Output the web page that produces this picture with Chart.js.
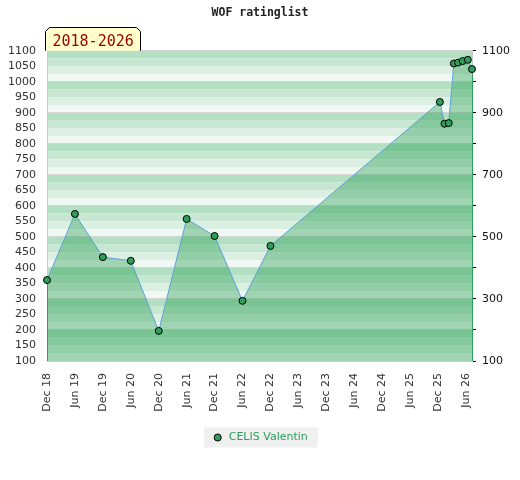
<!DOCTYPE html>
<html>
<head>
<meta charset="utf-8">
<script src="https://cdn.jsdelivr.net/npm/chart.js@4.4.1/dist/chart.umd.min.js"></script>
<style>
  html, body { margin: 0; padding: 0; background: #fff; }
  #wrap { width: 520px; height: 480px; }
</style>
</head>
<body>
<div id="wrap"><canvas id="ratingChart" width="520" height="480"></canvas></div>
<script>
// months counted from Dec 2018
const months = [0, 6, 12, 18, 24, 30, 36, 42, 48, 84.4, 85.4, 86.3, 87.4, 88.3, 89.3, 90.4, 91.3];
const ratings = [361, 574, 435, 423, 197, 558, 503, 294, 471, 935, 865, 867, 1059, 1062, 1067, 1071, 1041];
const tickMonths = [0, 6, 12, 18, 24, 30, 36, 42, 48, 54, 60, 66, 72, 78, 84, 90];
const tickLabels = ['Dec 18', 'Jun 19', 'Dec 19', 'Jun 20', 'Dec 20', 'Jun 21', 'Dec 21', 'Jun 22',
                    'Dec 22', 'Jun 23', 'Dec 23', 'Jun 24', 'Dec 24', 'Jun 25', 'Dec 25', 'Jun 26'];
const playerName = 'CELIS Valentin';
const periodText = '2018-2026';

const bandColors = ['#b3dfc3', '#c8e7d3', '#dcefe3', '#eff8f2'];

// striped background of the plot area
const bandsPlugin = {
  id: 'bands',
  beforeDraw(chart) {
    const { ctx, chartArea, scales } = chart;
    const y = scales.y;
    ctx.save();
    for (let v = 1100, i = 0; v > 100; v -= 25, i++) {
      const top = y.getPixelForValue(v);
      const bot = y.getPixelForValue(v - 25);
      ctx.fillStyle = bandColors[i % 4];
      ctx.fillRect(chartArea.left, top, chartArea.right - chartArea.left, bot - top);
    }
    // legend background
    const hb = chart.legend && chart.legend.legendHitBoxes[0];
    if (hb) {
      ctx.fillStyle = '#f0f0f0';
      ctx.fillRect(hb.left - 8, hb.top + hb.height / 2 - 10, hb.width + 18, 20);
    }
    ctx.restore();
  }
};

// green edges of the filled area + period label
const extrasPlugin = {
  id: 'extras',
  afterDatasetsDraw(chart) {
    const { ctx, chartArea, scales } = chart;
    const x = scales.x, y = scales.y;
    ctx.save();
    ctx.strokeStyle = '#2ca05a';
    ctx.lineWidth = 1;
    [0, months.length - 1].forEach(i => {
      const px = Math.round(x.getPixelForValue(months[i])) + 0.5;
      ctx.beginPath();
      ctx.moveTo(px, y.getPixelForValue(ratings[i]) + 4);
      ctx.lineTo(px, chartArea.bottom);
      ctx.stroke();
    });
    ctx.restore();
  },
  afterDraw(chart) {
    const { ctx, chartArea } = chart;
    const l = chartArea.left - 1.5, r = chartArea.left + 93.5;
    const t = 27.5, b = chartArea.top, c = 4;
    ctx.save();
    ctx.beginPath();
    ctx.moveTo(l, b);
    ctx.lineTo(l, t + c);
    ctx.lineTo(l + c, t);
    ctx.lineTo(r - c, t);
    ctx.lineTo(r, t + c);
    ctx.lineTo(r, b);
    ctx.fillStyle = '#ffffcc';
    ctx.fill();
    ctx.strokeStyle = '#000';
    ctx.lineWidth = 1;
    ctx.stroke();
    ctx.fillStyle = '#990000';
    ctx.font = '15px "DejaVu Sans Mono"';
    ctx.textBaseline = 'alphabetic';
    ctx.fillText(periodText, l + 7, 46);
    ctx.restore();
  }
};

const ctx = document.getElementById('ratingChart').getContext('2d');

new Chart(ctx, {
  type: 'line',
  data: {
    datasets: [{
      label: playerName,
      data: months.map((m, i) => ({ x: m, y: ratings[i] })),
      borderColor: '#5ba3d9',
      borderWidth: 1,
      backgroundColor: 'rgba(10,145,55,0.34)',
      fill: 'start',
      tension: 0,
      pointRadius: 3.5,
      pointBackgroundColor: '#2e9e58',
      pointBorderColor: '#000',
      pointBorderWidth: 1,
      clip: false
    }]
  },
  options: {
    responsive: false,
    animation: false,
    layout: { padding: { left: 0, right: 0, top: 0, bottom: 27 } },
    plugins: {
      title: {
        display: true,
        text: 'WOF ratinglist',
        color: '#222',
        font: { family: '"DejaVu Sans Mono"', size: 11.5, weight: 'bold' },
        padding: { top: 6, bottom: 31 }
      },
      legend: {
        position: 'bottom',
        labels: {
          usePointStyle: true,
          pointStyle: 'circle',
          boxWidth: 11,
          boxHeight: 5,
          padding: 6,
          color: '#2ca05a',
          font: { family: '"DejaVu Sans"', size: 11 },
          generateLabels() {
            return [{
              text: playerName,
              fillStyle: '#2e9e58',
              strokeStyle: '#000',
              lineWidth: 1,
              pointStyle: 'circle',
              fontColor: '#2ca05a'
            }];
          }
        }
      },
      tooltip: { enabled: false }
    },
    scales: {
      x: {
        type: 'linear',
        min: 0,
        max: months[months.length - 1],
        afterBuildTicks(scale) { scale.ticks = tickMonths.map(v => ({ value: v })); },
        afterFit(scale) { scale.height = 65; },
        grid: { display: false, drawTicks: false },
        border: { display: true, color: '#cccccc' },
        ticks: {
          minRotation: 90,
          maxRotation: 90,
          autoSkip: false,
          padding: 12,
          color: '#333',
          font: { family: '"DejaVu Sans"', size: 11 },
          callback(v) { return tickLabels[tickMonths.indexOf(v)]; }
        }
      },
      y: {
        position: 'left',
        min: 100,
        max: 1100,
        afterFit(scale) { scale.width = 47; },
        grid: {
          drawTicks: false,
          color: ctx => (ctx.tick && ctx.tick.value % 100 === 0) ? '#d6d6d6' : 'rgba(0,0,0,0)'
        },
        border: { display: true, color: '#cccccc' },
        ticks: {
          stepSize: 50,
          autoSkip: false,
          padding: 11,
          color: '#333',
          font: { family: '"DejaVu Sans"', size: 11 },
          callback(v) { return String(v); }
        }
      },
      y2: {
        position: 'right',
        min: 100,
        max: 1100,
        afterFit(scale) { scale.width = 48; },
        grid: { drawOnChartArea: false, tickLength: 4, color: '#000' },
        border: { display: true, color: '#cccccc' },
        ticks: {
          stepSize: 100,
          autoSkip: false,
          padding: 6,
          color: '#111',
          font: { family: '"DejaVu Sans"', size: 11 },
          callback(v) { return ((v - 100) % 200 === 0) ? String(v) : ''; }
        }
      }
    }
  },
  plugins: [bandsPlugin, extrasPlugin]
});
</script>
</body>
</html>
